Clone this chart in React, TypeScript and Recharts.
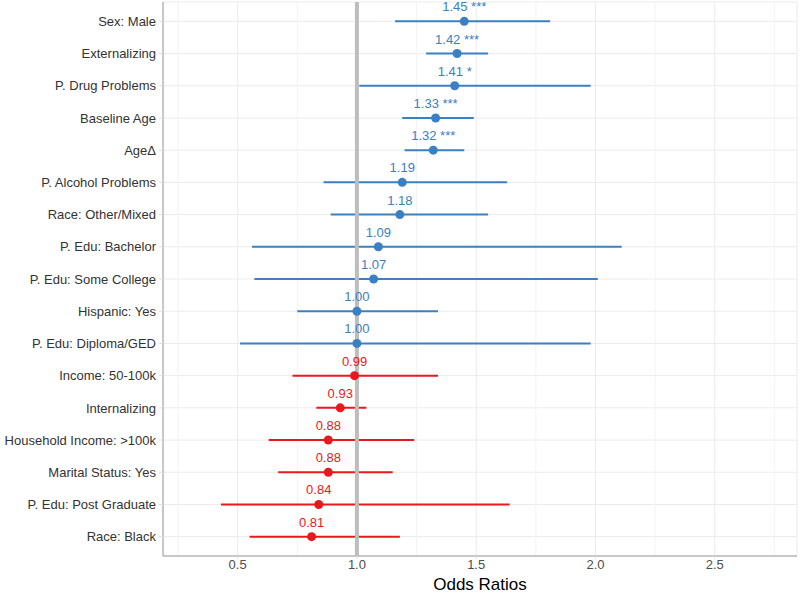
import {
  ScatterChart,
  Scatter,
  XAxis,
  YAxis,
  CartesianGrid,
  ReferenceLine,
  ErrorBar,
  Label,
} from "recharts"

const names = [
  "Sex: Male",
  "Externalizing",
  "P. Drug Problems",
  "Baseline Age",
  "AgeΔ",
  "P. Alcohol Problems",
  "Race: Other/Mixed",
  "P. Edu: Bachelor",
  "P. Edu: Some College",
  "Hispanic: Yes",
  "P. Edu: Diploma/GED",
  "Income: 50-100k",
  "Internalizing",
  "Household Income: >100k",
  "Marital Status: Yes",
  "P. Edu: Post Graduate",
  "Race: Black",
]
const oddsRatios = [1.45, 1.42, 1.41, 1.33, 1.32, 1.19, 1.18, 1.09, 1.07, 1.0, 1.0, 0.99, 0.93, 0.88, 0.88, 0.84, 0.81]
const lower = [1.16, 1.29, 1.01, 1.19, 1.2, 0.86, 0.89, 0.56, 0.57, 0.75, 0.51, 0.73, 0.83, 0.63, 0.67, 0.43, 0.55]
const upper = [1.81, 1.55, 1.98, 1.49, 1.45, 1.63, 1.55, 2.11, 2.01, 1.34, 1.98, 1.34, 1.04, 1.24, 1.15, 1.64, 1.18]
const stars = ["***", "***", "*", "***", "***", "", "", "", "", "", "", "", "", "", "", "", ""]

const xTicks = [0.5, 1.0, 1.5, 2.0, 2.5]
const minorTicks = [0.25, 0.75, 1.25, 1.75, 2.25, 2.75]
const yDomain = [-0.6, 16.6]
const nullEffect = 1

const rows = names.map((name, i) => ({
  name,
  y: i,
  or: oddsRatios[i],
  err: [oddsRatios[i] - lower[i], upper[i] - oddsRatios[i]],
  label: `${oddsRatios[i].toFixed(2)}${stars[i] ? " " + stars[i] : ""}`,
}))
const above = rows.filter((r) => r.or >= 1)
const below = rows.filter((r) => r.or < 1)
// vertical line at OR = 1, drawn as a series so it sits under the CIs
const refLine = yDomain.map((y) => ({ or: nullEffect, y }))

const BLUE = "#3a80c3"
const RED = "#e8181c"
const FONT = "'Liberation Sans', Arial, sans-serif"

// point + value label above it
const dotWithLabel = (color: string) => (p: any) => (
  <g>
    <circle cx={p.cx} cy={p.cy} r={4.5} fill={color} />
    <text x={p.cx} y={p.cy - 10} textAnchor="middle" fill={color} fontSize={13} fontFamily={FONT}>
      {p.payload.label}
    </text>
  </g>
)

const YTick = (p: any) => (
  <text x={p.x} y={p.y} dy="0.36em" textAnchor="end" fill="#333" fontSize={13} fontFamily={FONT}>
    {names[p.payload.value]}
  </text>
)

export default function App() {
  return (
    <div style={{ position: "absolute", left: 0, top: 0, background: "#fff", fontFamily: FONT }}>
      <ScatterChart width={800} height={595} margin={{ top: 2, right: 3, bottom: 0, left: 0 }}>
        <CartesianGrid stroke="#ebebeb" />
        {minorTicks.map((v) => (
          <ReferenceLine key={v} x={v} stroke="#f3f3f3" />
        ))}
        <XAxis
          type="number"
          dataKey="or"
          domain={[0.187, 2.845]}
          ticks={xTicks}
          tickFormatter={(v: number) => v.toFixed(1)}
          allowDataOverflow
          height={39}
          stroke="#9a9a9a"
          tick={{ fill: "#4d4d4d", fontSize: 13, fontFamily: FONT }}
          tickLine={{ stroke: "#e0e0e0" }}
          tickSize={3}
          tickMargin={1}
        >
          <Label value="Odds Ratios" position="insideBottom" offset={5} fill="#000" fontSize={17} fontFamily={FONT} />
        </XAxis>
        <YAxis
          type="number"
          dataKey="y"
          domain={yDomain}
          reversed
          ticks={names.map((_, i) => i)}
          interval={0}
          width={163}
          stroke="#9a9a9a"
          tick={<YTick />}
          tickLine={{ stroke: "#e0e0e0" }}
          tickSize={4}
          tickMargin={3}
        />
        <Scatter
          data={refLine}
          isAnimationActive={false}
          line={{ stroke: "#bdbdbd", strokeWidth: 4 }}
          shape={() => <g />}
        />
        <Scatter data={above} fill={BLUE} isAnimationActive={false} shape={dotWithLabel(BLUE)}>
          <ErrorBar dataKey="err" direction="x" width={0} stroke={BLUE} strokeWidth={2} />
        </Scatter>
        <Scatter data={below} fill={RED} isAnimationActive={false} shape={dotWithLabel(RED)}>
          <ErrorBar dataKey="err" direction="x" width={0} stroke={RED} strokeWidth={2} />
        </Scatter>
      </ScatterChart>
    </div>
  )
}
